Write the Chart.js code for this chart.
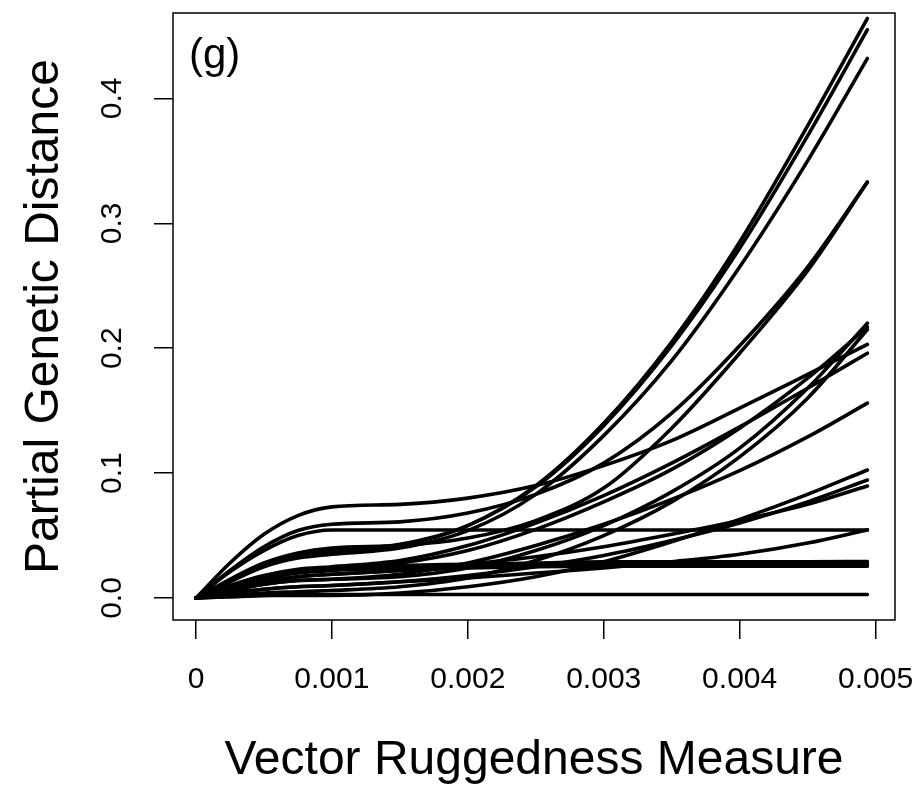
<!DOCTYPE html>
<html>
<head>
<meta charset="utf-8">
<script src="https://cdn.jsdelivr.net/npm/chart.js@4.4.1/dist/chart.umd.min.js"></script>
<style>
  body { margin: 0; background: #fff; }
</style>
</head>
<body>
<canvas id="myChart" width="923" height="787"></canvas>
<script>
var xValues = [0, 0.00025, 0.0005, 0.00075, 0.001, 0.0015, 0.002, 0.0025, 0.003, 0.0035, 0.004, 0.0045, 0.00494];

// steep group (top three)
var curveT1 = [0, 0.014, 0.026, 0.034, 0.037, 0.042, 0.058, 0.090, 0.140, 0.205, 0.285, 0.378, 0.464];
var curveT2 = [0, 0.014, 0.026, 0.034, 0.038, 0.043, 0.058, 0.089, 0.138, 0.202, 0.280, 0.370, 0.455];
var curveT3 = [0, 0.013, 0.025, 0.032, 0.035, 0.040, 0.054, 0.083, 0.130, 0.190, 0.265, 0.350, 0.432];
// ending near 0.33
var curveB1 = [0, 0.022, 0.041, 0.054, 0.059, 0.061, 0.068, 0.083, 0.108, 0.148, 0.202, 0.265, 0.333];
var curveB2 = [0, 0.015, 0.028, 0.036, 0.040, 0.042, 0.048, 0.062, 0.088, 0.136, 0.196, 0.262, 0.333];
// ending near 0.2
var curveA  = [0, 0.028, 0.051, 0.066, 0.073, 0.075, 0.080, 0.090, 0.106, 0.126, 0.152, 0.179, 0.203];
var curveD1 = [0, 0.006, 0.011, 0.014, 0.015, 0.017, 0.024, 0.038, 0.058, 0.085, 0.120, 0.168, 0.220];
var curveD2 = [0, 0.009, 0.017, 0.022, 0.024, 0.028, 0.038, 0.055, 0.077, 0.103, 0.136, 0.176, 0.217];
var curveD3 = [0, 0.002, 0.004, 0.005, 0.006, 0.009, 0.016, 0.030, 0.050, 0.077, 0.113, 0.160, 0.215];
var curveE  = [0, 0.010, 0.018, 0.023, 0.025, 0.030, 0.042, 0.060, 0.082, 0.108, 0.137, 0.168, 0.196];
var curveF  = [0, 0.006, 0.011, 0.014, 0.015, 0.019, 0.028, 0.042, 0.059, 0.079, 0.102, 0.129, 0.156];
// ending near 0.1
var curveG1 = [0, 0.001, 0.002, 0.002, 0.002, 0.004, 0.009, 0.017, 0.029, 0.045, 0.063, 0.083, 0.1025];
var curveG2 = [0, 0.004, 0.007, 0.009, 0.010, 0.013, 0.018, 0.025, 0.034, 0.046, 0.060, 0.077, 0.0945];
var curveG3 = [0, 0.007, 0.013, 0.017, 0.019, 0.022, 0.027, 0.033, 0.041, 0.051, 0.062, 0.075, 0.0897];
// low / flat ones
var curveC  = [0, 0.021, 0.038, 0.050, 0.0545, 0.0545, 0.0545, 0.0545, 0.0545, 0.0545, 0.0545, 0.0545, 0.0545];
var curveH  = [0, 0.004, 0.007, 0.009, 0.010, 0.013, 0.016, 0.020, 0.024, 0.029, 0.035, 0.044, 0.0545];
var curveI1 = [0, 0.009, 0.017, 0.022, 0.024, 0.026, 0.027, 0.028, 0.029, 0.029, 0.029, 0.029, 0.0292];
var curveI2 = [0, 0.008, 0.015, 0.020, 0.022, 0.024, 0.026, 0.027, 0.0272, 0.0273, 0.0273, 0.0273, 0.0273];
var curveI3 = [0, 0.007, 0.013, 0.017, 0.019, 0.022, 0.024, 0.025, 0.0255, 0.0255, 0.0255, 0.0255, 0.0255];
var curveJ  = [0, 0.001, 0.002, 0.0026, 0.0028, 0.0028, 0.0028, 0.0028, 0.0028, 0.0028, 0.0028, 0.0028, 0.0028];

var xTicks = [0, 0.001, 0.002, 0.003, 0.004, 0.005];
var xTickLabels = ["0", "0.001", "0.002", "0.003", "0.004", "0.005"];
var yTicks = [0, 0.1, 0.2, 0.3, 0.4];
var yTickLabels = ["0.0", "0.1", "0.2", "0.3", "0.4"];

var curves = [curveT1, curveT2, curveT3, curveB1, curveB2, curveA, curveD1, curveD2, curveD3,
  curveE, curveF, curveG1, curveG2, curveG3, curveC, curveH, curveI1, curveI2, curveI3, curveJ];

var fam = '"Liberation Sans", Arial, Helvetica, sans-serif';

var frame = {
  id: 'frame',
  afterDatasetsDraw: function(chart) {
    var ctx = chart.ctx, a = chart.chartArea;
    ctx.save();
    ctx.strokeStyle = '#000';
    ctx.lineWidth = 1.5;
    ctx.strokeRect(a.left, a.top, a.right - a.left, a.bottom - a.top);
    ctx.fillStyle = '#000';
    ctx.font = '42px ' + fam;
    ctx.textBaseline = 'alphabetic';
    ctx.fillText('(g)', a.left + 16, 68);
    ctx.restore();
  }
};

new Chart("myChart", {
  type: "scatter",
  data: {
    datasets: curves.map(function(c) {
      return {
        data: xValues.map(function(x, i) { return {x: x, y: c[i]}; }),
        showLine: true,
        borderColor: "#000",
        borderWidth: 3.6,
        borderCapStyle: "round",
        pointRadius: 0,
        cubicInterpolationMode: "monotone",
        fill: false
      };
    })
  },
  options: {
    responsive: false,
    animation: false,
    events: [],
    layout: {padding: {top: 13, right: 28, left: 0, bottom: 0}},
    plugins: {legend: {display: false}, tooltip: {enabled: false}},
    scales: {
      x: {
        type: "linear",
        min: -0.000169,
        max: 0.005143,
        afterBuildTicks: function(s) { s.ticks = xTicks.map(function(v) { return {value: v}; }); },
        afterFit: function(s) { s.height = 167; s.paddingLeft = 0; s.paddingRight = 0; },
        grid: {drawOnChartArea: false, drawTicks: true, tickLength: 19, color: "#000", lineWidth: 1.5},
        border: {display: false},
        ticks: {
          callback: function(v, i) { return xTickLabels[i]; },
          font: {family: fam, size: 30}, color: "#000", padding: 23,
          maxRotation: 0, autoSkip: false
        },
        title: {display: true, text: "Vector Ruggedness Measure", color: "#000",
          font: {family: fam, size: 48, lineHeight: 1.1}, padding: {top: 0, bottom: 0}}
      },
      y: {
        type: "linear",
        min: -0.0176,
        max: 0.4684,
        afterBuildTicks: function(s) { s.ticks = yTicks.map(function(v) { return {value: v}; }); },
        afterFit: function(s) { s.width = 173; s.paddingTop = 0; s.paddingBottom = 0; },
        grid: {drawOnChartArea: false, drawTicks: true, tickLength: 19, color: "#000", lineWidth: 1.5},
        border: {display: false},
        ticks: {
          callback: function(v, i) { return yTickLabels[i]; },
          font: {family: fam, size: 30}, color: "#000", padding: 20,
          minRotation: 90, maxRotation: 90, crossAlign: "center", autoSkip: false
        },
        title: {display: true, text: "Partial Genetic Distance", color: "#000",
          font: {family: fam, size: 48, lineHeight: 1.1}, padding: {top: 18, bottom: 0}}
      }
    }
  },
  plugins: [frame]
});
</script>
</body>
</html>
